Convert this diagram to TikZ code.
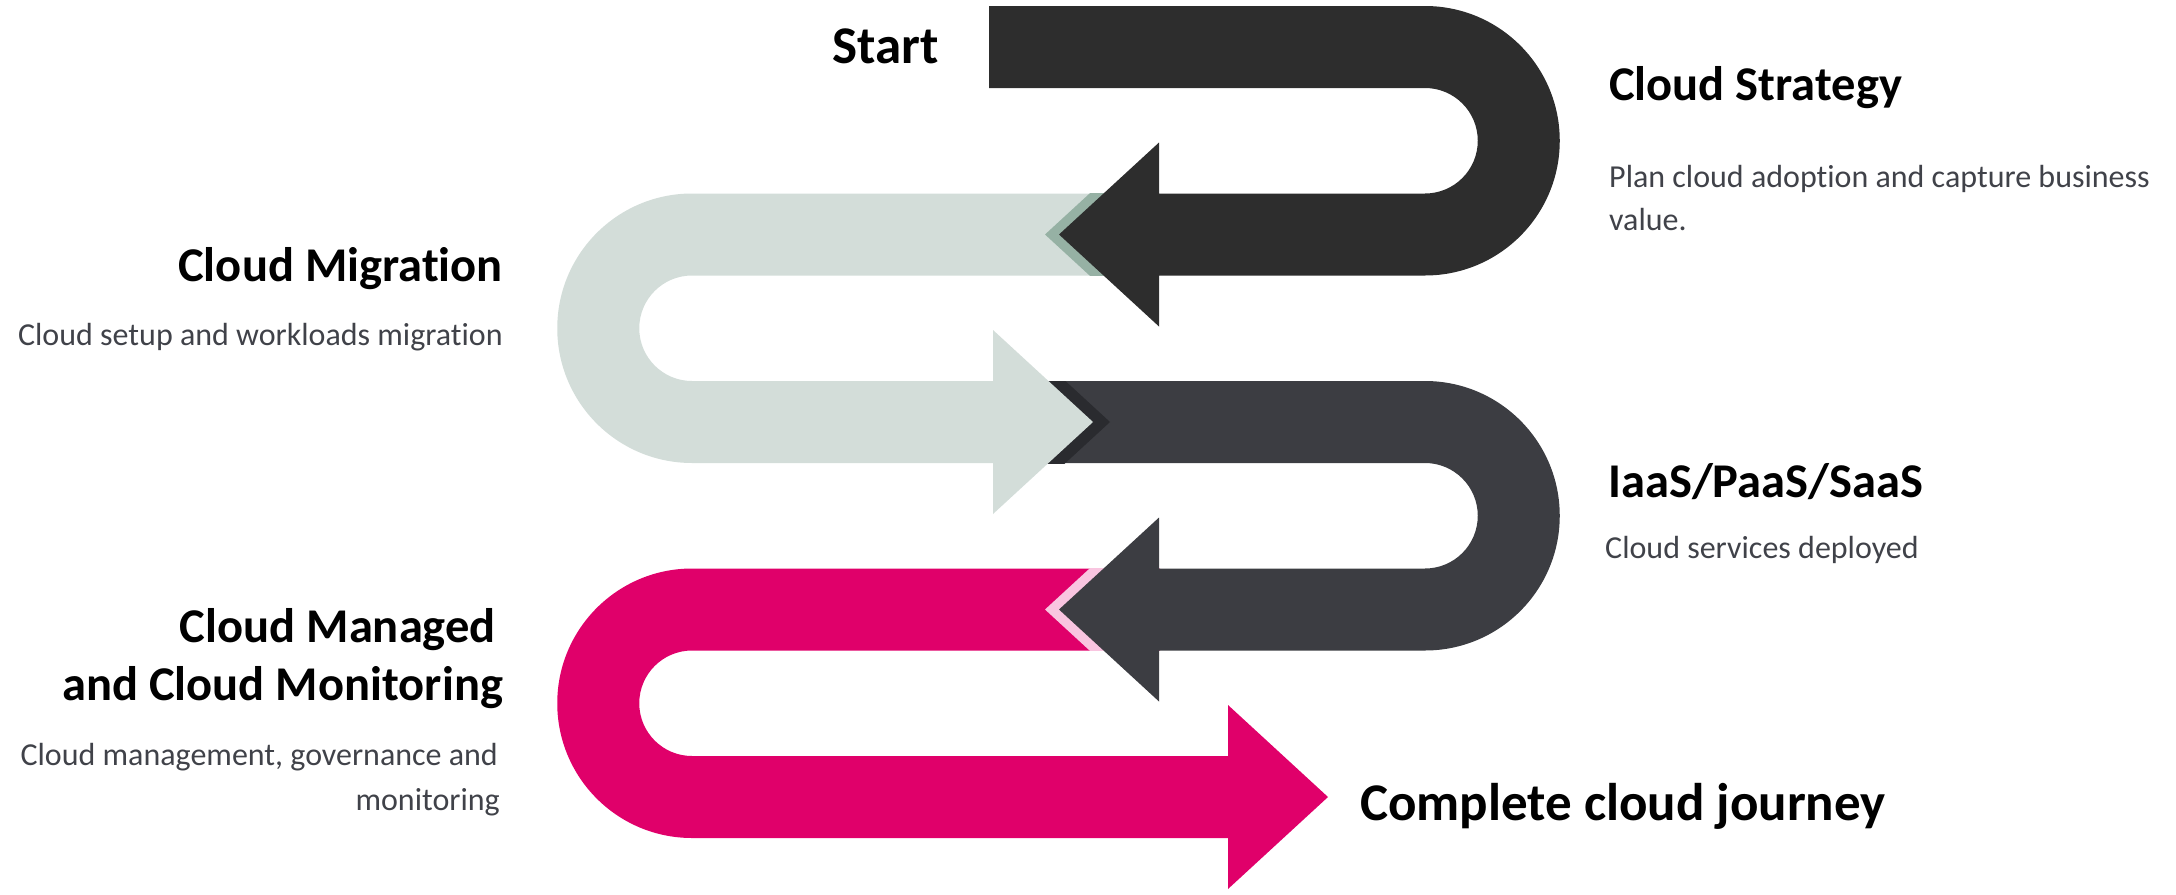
\documentclass[tikz,border=0pt]{standalone}
\usepackage{fontspec}
\setmainfont{Carlito}[Ligatures=NoCommon]
\definecolor{darkA}{HTML}{2D2D2D}
\definecolor{darkB}{HTML}{3C3D42}
\definecolor{lightG}{HTML}{D3DDD9}
\definecolor{shadG}{HTML}{96B1A4}
\definecolor{shadD}{HTML}{2A2B2F}
\definecolor{magC}{HTML}{E0006A}
\definecolor{shadP}{HTML}{F9C5E0}
\definecolor{descgray}{HTML}{404249}
\tikzset{
  title/.style={font=\bfseries\fontsize{48.5}{56}\selectfont, text=black, inner sep=0pt},
  bigtitle/.style={font=\bfseries\fontsize{53}{60}\selectfont, text=black, inner sep=0pt},
  desc/.style={font=\fontsize{32}{40}\selectfont, text=descgray, inner sep=0pt}
}
\begin{document}
\begin{tikzpicture}[x=1pt,y=-1pt]
\useasboundingbox (0,0) rectangle (2176,894);
% magenta U (rows 3-4)
\fill[magC] (692,568.5) -- (1160,568.5) -- (1160,650.5) -- (692,650.5)
  arc[start angle=-90,end angle=-270,radius=52.75] -- (1228,756) -- (1228,705)
  -- (1328,797) -- (1228,889) -- (1228,838) -- (692,838)
  arc[start angle=90,end angle=270,radius=134.75] -- cycle;
\begin{scope}
  \clip (900,568.5) rectangle (1159,650.5);
  \fill[shadP] (1145,517.5) -- (1045,609.5) -- (1145,701.5) -- cycle;
\end{scope}
% dark U 2 (rows 2-3)
\fill[darkB] (1000,381) -- (1425,381)
  arc[start angle=-90,end angle=90,radius=134.75] -- (1159,650.5) -- (1159,701.5)
  -- (1059,609.5) -- (1159,517.5) -- (1159,568.5) -- (1425,568.5)
  arc[start angle=90,end angle=-90,radius=52.75] -- (1000,463) -- cycle;
\begin{scope}
  \clip (900,381) rectangle (1200,463);
  \fill[shadD] (1010,330) -- (1110,422) -- (1010,514) -- cycle;
\end{scope}
% light U (rows 1-2)
\fill[lightG] (1159,193.5) -- (692,193.5)
  arc[start angle=270,end angle=90,radius=134.75] -- (993,463) -- (993,514)
  -- (1093,422) -- (993,330) -- (993,381) -- (692,381)
  arc[start angle=90,end angle=270,radius=52.75] -- (1159,275.5) -- cycle;
\begin{scope}
  \clip (900,193.5) rectangle (1159,275.5);
  \fill[shadG] (1145,142.5) -- (1045,234.5) -- (1145,326.5) -- cycle;
\end{scope}
% dark U 1 (rows 0-1)
\fill[darkA] (989,6) -- (1425,6)
  arc[start angle=-90,end angle=90,radius=134.75] -- (1159,275.5) -- (1159,326.5)
  -- (1059,234.5) -- (1159,142.5) -- (1159,193.5) -- (1425,193.5)
  arc[start angle=90,end angle=-90,radius=52.75] -- (989,88) -- cycle;
% texts
\node[bigtitle, anchor=base east] (start) at (939,63) {Start};
\node[title, anchor=base west] (strat) at (1609,100) {Cloud Strategy};
\node[desc, anchor=base west] (stratd1) at (1609,187) {Plan cloud adoption and capture business};
\node[desc, anchor=base west] (stratd2) at (1609,230) {value.};
\node[title, anchor=base west] (iaas) at (1608,497) {IaaS/PaaS/SaaS};
\node[desc, anchor=base west] (iaasd) at (1605,558) {Cloud services deployed};
\node[title, anchor=base east] (migr) at (503,281) {Cloud Migration};
\node[desc, anchor=base east] (migrd) at (503,345) {Cloud setup and workloads migration};
\node[title, anchor=base east] (man1) at (496,642) {Cloud Managed};
\node[title, anchor=base east] (man2) at (503,700) {and Cloud Monitoring};
\node[desc, anchor=base east] (mand1) at (498,765) {Cloud management, governance and};
\node[desc, anchor=base east] (mand2) at (500,810) {monitoring};
\node[bigtitle, anchor=base west] (done) at (1360,820) {Complete cloud journey};
\end{tikzpicture}
\end{document}
